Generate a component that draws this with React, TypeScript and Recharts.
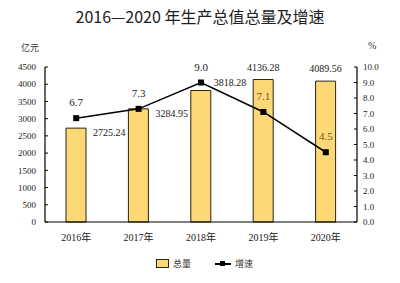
import { ComposedChart, Bar, Line, XAxis, YAxis, LabelList } from "recharts";

const years = ["2016年", "2017年", "2018年", "2019年", "2020年"];
const totals = [2725.24, 3284.95, 3818.28, 4136.28, 4089.56];
const growth = [6.7, 7.3, 9.0, 7.1, 4.5];
const leftTicks = [0, 500, 1000, 1500, 2000, 2500, 3000, 3500, 4000, 4500];
const rightTicks = [0, 1, 2, 3, 4, 5, 6, 7, 8, 9, 10];

const data = years.map((year, i) => ({ year, total: totals[i], growth: growth[i] }));

const serif = "'Liberation Serif', 'DejaVu Serif', 'Noto Sans CJK SC', serif";
const cjk = "'Noto Sans CJK SC', sans-serif";

const SquareDot = (props: any) => {
  const { cx, cy } = props;
  if (cx == null || cy == null) return null;
  return <rect x={cx - 3} y={cy - 3} width={6} height={6} fill="#000" />;
};

const TotalLabel = (props: any) => {
  const { x, y, width, value, index } = props;
  const text = Number(value).toFixed(2);
  if (index < 2) {
    return (
      <text x={x + width + 7} y={y + 8} fontSize={10} fontFamily={serif} fill="#222" textAnchor="start">
        {text}
      </text>
    );
  }
  if (index === 2) {
    return (
      <text x={x + width + 3} y={y - 4} fontSize={10} fontFamily={serif} fill="#222" textAnchor="start">
        {text}
      </text>
    );
  }
  return (
    <text x={x + width / 2} y={y - 9} fontSize={10} fontFamily={serif} fill="#222" textAnchor="middle">
      {text}
    </text>
  );
};

const GrowthLabel = (props: any) => {
  const { x, y, value, index } = props;
  const color = index >= 3 ? "#6b5a17" : "#222";
  return (
    <text x={x} y={y - 12} fontSize={11} fontFamily={serif} fill={color} textAnchor="middle">
      {Number(value).toFixed(1)}
    </text>
  );
};

export default function App() {
  return (
    <div style={{ position: "absolute", left: 0, top: 0, width: 400, height: 283, background: "#fff" }}>
      <div
        style={{
          position: "absolute",
          top: 4,
          left: 0,
          width: 400,
          textAlign: "center",
          fontFamily: cjk,
          fontSize: 16,
          color: "#222",
        }}
      >
        2016—2020 年生产总值总量及增速
      </div>
      <div style={{ position: "absolute", top: 41, left: 21, fontFamily: cjk, fontSize: 9, color: "#333" }}>亿元</div>
      <div style={{ position: "absolute", top: 40, left: 368, fontFamily: serif, fontSize: 10, color: "#333" }}>%</div>
      <ComposedChart
        width={400}
        height={283}
        data={data}
        margin={{ top: 67, right: 0, bottom: 31, left: 0 }}
        barCategoryGap={0}
      >
        <XAxis
          xAxisId="bounds"
          type="number"
          domain={[0, 5]}
          ticks={[1, 2, 3, 4]}
          tick={false}
          axisLine={false}
          tickSize={-4}
          height={0}
          orientation="bottom"
          allowDataOverflow
        />
        <XAxis
          dataKey="year"
          tickLine={false}
          axisLine={{ stroke: "#000", strokeWidth: 1.2 }}
          tick={{ fontSize: 10, fontFamily: serif, fill: "#222" }}
          tickMargin={6}
          height={30}
        />
        <YAxis
          yAxisId="left"
          width={45}
          domain={[0, 4500]}
          ticks={leftTicks}
          interval={0}
          axisLine={{ stroke: "#000", strokeWidth: 1.2 }}
          tickLine={{ stroke: "#000" }}
          tickSize={-3}
          tickMargin={12}
          tick={{ fontSize: 9, fontFamily: serif, fill: "#222" }}
        />
        <YAxis
          yAxisId="right"
          orientation="right"
          width={43}
          domain={[0, 10]}
          ticks={rightTicks}
          interval={0}
          axisLine={{ stroke: "#000", strokeWidth: 1.2 }}
          tickLine={{ stroke: "#000" }}
          tickSize={-3}
          tickMargin={9}
          tickFormatter={(v: number) => v.toFixed(1)}
          tick={{ fontSize: 9, fontFamily: serif, fill: "#222" }}
        />
        <Bar
          yAxisId="left"
          dataKey="total"
          barSize={20}
          fill="#fcd877"
          stroke="#2a2410"
          strokeWidth={1}
          isAnimationActive={false}
        >
          <LabelList dataKey="total" content={TotalLabel} />
        </Bar>
        <Line
          yAxisId="right"
          dataKey="growth"
          stroke="#000"
          strokeWidth={1.5}
          dot={<SquareDot />}
          activeDot={false}
          isAnimationActive={false}
        >
          <LabelList dataKey="growth" content={GrowthLabel} />
        </Line>
      </ComposedChart>
      <div
        style={{
          position: "absolute",
          top: 257,
          left: 156,
          display: "flex",
          alignItems: "center",
          fontFamily: cjk,
          fontSize: 9,
          color: "#333",
        }}
      >
        <span style={{ display: "inline-block", width: 11, height: 7, background: "#fcd877", border: "1px solid #2a2410" }} />
        <span style={{ marginLeft: 4 }}>总量</span>
        <span style={{ marginLeft: 24, position: "relative", display: "inline-block", width: 16, height: 7 }}>
          <span style={{ position: "absolute", left: 0, top: 3, width: 16, height: 1.5, background: "#000" }} />
          <span style={{ position: "absolute", left: 5, top: 1, width: 5, height: 5, background: "#000" }} />
        </span>
        <span style={{ marginLeft: 4 }}>增速</span>
      </div>
    </div>
  );
}
